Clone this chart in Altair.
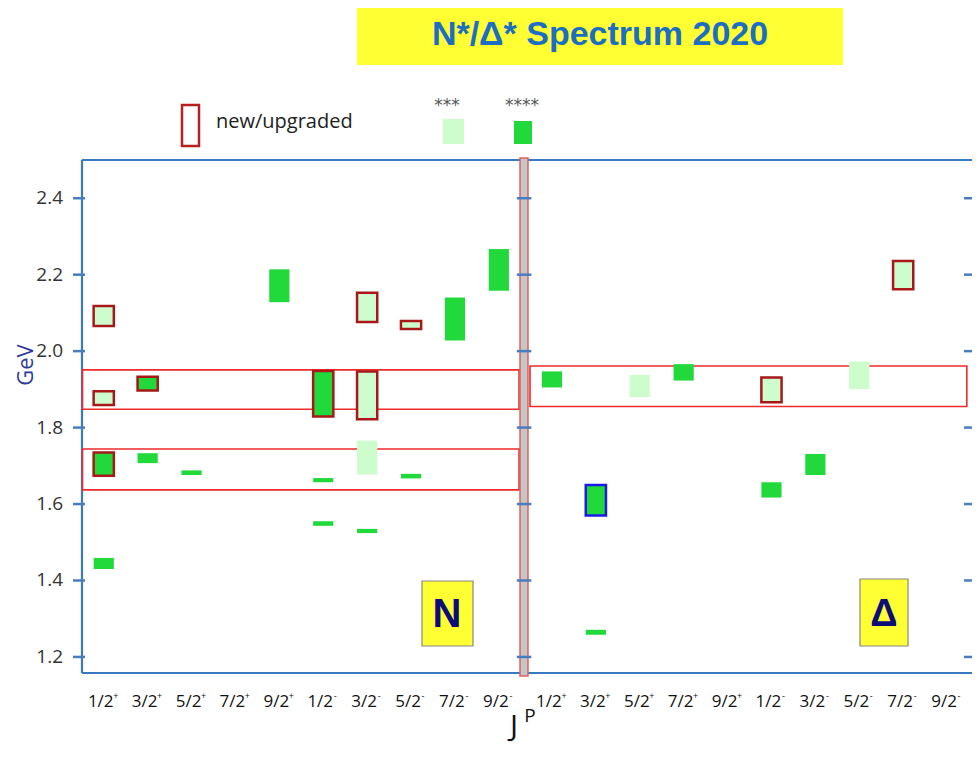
import altair as alt
import pandas as pd

# ---------------- data ----------------
jp_fraction = ["1/2", "3/2", "5/2", "7/2", "9/2", "1/2", "3/2", "5/2", "7/2", "9/2"]
jp_parity = ["+", "+", "+", "+", "+", "-", "-", "-", "-", "-"]

# N* states: column index (J^P), mass range (GeV), rating, marker
n_col = [0, 0, 0, 0, 1, 1, 2, 4, 5, 5, 5, 6, 6, 6, 6, 7, 7, 8, 9]
n_lo = [2.066, 1.859, 1.674, 1.430, 1.897, 1.707, 1.676, 2.128, 1.829, 1.657, 1.543,
        2.076, 1.822, 1.677, 1.524, 2.058, 1.667, 2.028, 2.158]
n_hi = [2.118, 1.895, 1.735, 1.459, 1.933, 1.733, 1.688, 2.214, 1.948, 1.668, 1.555,
        2.153, 1.947, 1.766, 1.535, 2.079, 1.679, 2.140, 2.267]
n_stars = ["***", "***", "****", "****", "****", "****", "****", "****", "****", "****", "****",
           "***", "***", "***", "****", "***", "****", "****", "****"]
n_mark = ["new", "new", "new", "none", "new", "none", "none", "none", "new", "none", "none",
          "new", "new", "none", "none", "new", "none", "none", "none"]

# Delta* states
d_col = [0, 1, 1, 2, 3, 5, 5, 6, 7, 8]
d_lo = [1.905, 1.570, 1.258, 1.880, 1.923, 1.866, 1.617, 1.676, 1.901, 2.162]
d_hi = [1.947, 1.650, 1.271, 1.938, 1.966, 1.931, 1.657, 1.731, 1.973, 2.236]
d_stars = ["****", "****", "****", "***", "****", "***", "****", "****", "***", "***"]
d_mark = ["none", "blue", "none", "none", "none", "new", "none", "none", "none", "new"]

# highlighted mass bands
band_block = ["N", "N", "Δ"]
band_lo = [1.848, 1.637, 1.855]
band_hi = [1.951, 1.744, 1.961]

y_ticks = [1.2, 1.4, 1.6, 1.8, 2.0, 2.2, 2.4]

# ---------------- layout ----------------
W, H = 890, 513
XMIN, XMAX = -0.4954, 19.778
YMIN, YMAX = 1.158, 2.5
D_OFF = 10.21          # slot where the Delta block starts
DIV_L, DIV_R = 9.482, 9.664
HALF = 0.23

DARK = "#22d93c"
LIGHT = "#cdfdcd"
DARKRED = "#a81818"
BAND_RED = "#ee2a2a"
FRAME = "#3a78c2"
TICK = "#4a7cc0"

xs = alt.Scale(domain=[XMIN, XMAX], nice=False, zero=False)
ys = alt.Scale(domain=[YMIN, YMAX], nice=False, zero=False)

states = pd.DataFrame({
    "slot": [c for c in n_col] + [D_OFF + c for c in d_col],
    "lo": n_lo + d_lo,
    "hi": n_hi + d_hi,
    "stars": n_stars + d_stars,
    "mark": n_mark + d_mark,
})
states["x0"] = states["slot"] - HALF
states["x1"] = states["slot"] + HALF

bands = pd.DataFrame({"block": band_block, "lo": band_lo, "hi": band_hi})
bands["x0"] = bands["block"].map({"N": XMIN + 0.01, "Δ": 9.71})
bands["x1"] = bands["block"].map({"N": 9.46, "Δ": 19.66})

labels = pd.DataFrame({
    "slot": list(range(10)) + [D_OFF + i for i in range(10)],
    "frac": jp_fraction * 2,
    "par": jp_parity * 2,
})

ticks = pd.DataFrame({"v": y_ticks})


def txt(text, x, y, **kw):
    return alt.Chart(pd.DataFrame({"t": [text]})).mark_text(**kw).encode(
        x=alt.value(x), y=alt.value(y), text="t:N")


def box(x0, x1, y0, y1, **kw):
    return alt.Chart(pd.DataFrame({"a": [0]})).mark_rect(**kw).encode(
        x=alt.value(x0), x2=alt.value(x1), y=alt.value(y0), y2=alt.value(y1))


ylab = alt.Chart(ticks).transform_calculate(lab="format(datum.v, '.1f')").mark_text(
    font="Open Sans", fontSize=19, color="#333333", align="right", baseline="middle").encode(
    x=alt.value(-19), y=alt.Y("v:Q", scale=ys, axis=None), text="lab:N")

band_layer = alt.Chart(bands).mark_rect(fill="white", fillOpacity=0, stroke=BAND_RED, strokeWidth=1.6).encode(
    x=alt.X("x0:Q", scale=xs, axis=None), x2="x1:Q",
    y=alt.Y("hi:Q", scale=ys, axis=None), y2="lo:Q",
)

state_layer = alt.Chart(states).mark_rect(strokeWidth=2.5).encode(
    x=alt.X("x0:Q", scale=xs, axis=None), x2="x1:Q",
    y=alt.Y("hi:Q", scale=ys, axis=None), y2="lo:Q",
    fill=alt.Fill("stars:N", scale=alt.Scale(domain=["***", "****"], range=[LIGHT, DARK]), legend=None),
    stroke=alt.Stroke("mark:N", scale=alt.Scale(domain=["new", "blue", "none"],
                                                range=[DARKRED, "#1a1ae6", "transparent"]), legend=None),
)

frame_top = alt.Chart(ticks.head(1)).mark_rule(color=FRAME, strokeWidth=2.2).encode(
    x=alt.value(0), x2=alt.value(W), y=alt.value(0))
frame_left = alt.Chart(ticks.head(1)).mark_rule(color=FRAME, strokeWidth=2.2).encode(
    x=alt.value(0), y=alt.value(0), y2=alt.value(H))
frame_bottom = alt.Chart(ticks.head(1)).mark_rule(color=FRAME, strokeWidth=2.2).encode(
    x=alt.value(0), x2=alt.value(W), y=alt.value(H))

divider = alt.Chart(pd.DataFrame({"a": [DIV_L], "b": [DIV_R]})).mark_rect(
    fill="#c6c6c6", stroke="#e06060", strokeWidth=1.5).encode(
    x=alt.X("a:Q", scale=xs, axis=None), x2="b:Q", y=alt.value(-2), y2=alt.value(H + 3))

tick_left = alt.Chart(ticks).mark_rule(color=TICK, strokeWidth=2.5).encode(
    x=alt.value(-9), x2=alt.value(3), y=alt.Y("v:Q", scale=ys, axis=None))
tick_mid = alt.Chart(ticks).transform_calculate(a="9.41", b="9.74").mark_rule(color=TICK, strokeWidth=2.5).encode(
    x=alt.X("a:Q", scale=xs, axis=None), x2="b:Q", y=alt.Y("v:Q", scale=ys, axis=None))
tick_right = alt.Chart(ticks).mark_rule(color=TICK, strokeWidth=2.5).encode(
    x=alt.value(W - 8), x2=alt.value(W), y=alt.Y("v:Q", scale=ys, axis=None))

xlab = alt.Chart(labels).mark_text(font="Open Sans", fontSize=17, color="#111111",
                                   baseline="middle", dx=-3).encode(
    x=alt.X("slot:Q", scale=xs, axis=None), y=alt.value(H + 29), text="frac:N")
xpar = alt.Chart(labels).mark_text(font="Open Sans", fontSize=9, color="#111111",
                                   baseline="middle", dx=12, dy=-6).encode(
    x=alt.X("slot:Q", scale=xs, axis=None), y=alt.value(H + 29), text="par:N")

decor = [
    box(275, 761, -160, -95, fill="#ffff33"),
    txt("N*/Δ* Spectrum 2020", 518, -125, font="Liberation Sans", fontSize=34, fontWeight="bold",
        color="#1b6ec2", baseline="middle", align="center"),
    box(100, 117, -55, -14, fill="white", stroke="#b52020", strokeWidth=2.5),
    txt("new/upgraded", 134, -38, font="Open Sans", fontSize=20, color="#222222", align="left",
        baseline="middle"),
    txt("***", 365, -54, font="DejaVu Sans", fontSize=17, color="#555555", align="center",
        baseline="middle"),
    txt("****", 440, -54, font="DejaVu Sans", fontSize=17, color="#555555", align="center",
        baseline="middle"),
    box(361, 382, -41, -16, fill=LIGHT),
    box(432, 450, -39, -16, fill=DARK),
    box(340, 391, 421, 486, fill="#ffff33", stroke="#888888", strokeWidth=1.2),
    txt("N", 365, 455, font="Liberation Sans", fontSize=40, fontWeight="bold", color="#0d0d7a",
        align="center", baseline="middle"),
    box(778, 826, 419, 486, fill="#ffff33", stroke="#888888", strokeWidth=1.2),
    txt("Δ", 802, 455, font="Liberation Sans", fontSize=38, fontWeight="bold", color="#0d0d7a",
        align="center", baseline="middle"),
    txt("GeV", -56, 205, font="Open Sans", fontSize=22, color="#2d3a9c", angle=270,
        align="center", baseline="middle"),
    txt("J", 432, 567, font="Open Sans", fontSize=30, color="#111111", align="center",
        baseline="middle"),
    txt("P", 448, 556, font="Open Sans", fontSize=19, color="#111111", align="center",
        baseline="middle"),
]

chart = alt.layer(
    frame_top, frame_left, frame_bottom, band_layer, state_layer, divider,
    tick_left, tick_mid, tick_right, ylab, xlab, xpar, *decor
).properties(
    width=W, height=H,
    autosize=alt.AutoSizeParams(type="none"),
    padding={"left": 74, "top": 152, "right": 0, "bottom": 76},
    background="white",
).configure_view(stroke=None)

chart.save("out.html", embed_options={"renderer": "svg", "actions": False})
